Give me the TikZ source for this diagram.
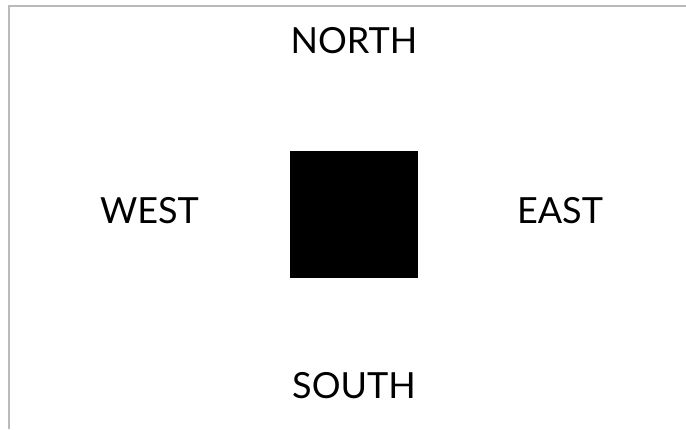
\documentclass[tikz,border=0pt]{standalone}
\usepackage{fontspec}
\setmainfont{Lato}
\usetikzlibrary{positioning}

\begin{document}
\begin{tikzpicture}[
    x=1pt, y=1pt,
    label/.style={font=\fontsize{36}{40}\selectfont, inner sep=0pt},
    block/.style={fill=black, minimum width=128pt, minimum height=127pt, inner sep=0pt},
    frame/.style={draw=black!27, line width=2pt},
    on grid,
  ]
  \useasboundingbox (0,0) rectangle (686,429);

  % ---- frame edges
  \coordinate (tl) at (8.5,422.5);
  \coordinate (tr) at (686,422.5);
  \coordinate (bl) at (8.5,0);
  \draw[frame] (tr) -- (tl) -- (bl);

  % ---- centre block and directions
  \node[block] (box) at (354,214.5) {};
  \node[label, above=173.5pt of box] (north) {NORTH};
  \node[label, below=171pt of box] (south) {SOUTH};
  \node[label, left=204.5pt of box, yshift=4pt] (west) {WEST};
  \node[label, right=206pt of box, yshift=4pt] (east) {EAST};
\end{tikzpicture}
\end{document}
